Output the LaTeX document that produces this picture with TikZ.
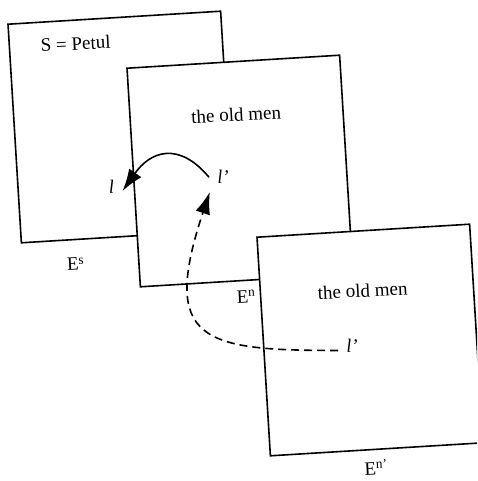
\documentclass[tikz,border=0pt]{standalone}
\usepackage{fontspec}
\setmainfont{Liberation Serif}
\usetikzlibrary{arrows.meta}
\tikzset{
  sheet/.style={draw, fill=white, line width=1.6pt, rotate=3.5, minimum width=213pt, minimum height=219pt, inner sep=0pt},
  txt/.style={font=\fontsize{19}{22}\selectfont, rotate=3, anchor=base},
  tag/.style={font=\fontsize{19}{22}\selectfont\itshape, rotate=3, inner sep=8pt},
  hop/.style={line width=1.6pt, -{Latex[length=22pt,width=15pt]}}
}
\begin{document}
\begin{tikzpicture}[x=1pt,y=1pt]
\useasboundingbox (0,0) rectangle (477,-481);
\clip (0,0) rectangle (477,-481);
% sheets, back to front
\node[sheet] (es) at (121,-127) {};
\node[sheet] (en) at (240,-171) {};
\node[sheet] (enp) at (370,-340) {};
\node[txt] (subj) at (76,-50) {S = Petul};
\node[txt] (mena) at (236.5,-121) {the old men};
\node[txt] (menb) at (363,-297) {the old men};
\node[txt] (nes) at (76,-270.5) {E\textsuperscript{s}};
\node[txt] (nen) at (246.5,-303) {E\textsuperscript{n}};
\node[txt] (nenp) at (376.5,-475) {E\textsuperscript{n'}};
\node[tag] (lS) at (111.5,-186.5) {l};
\node[tag] (lN) at (223,-176.5) {l'};
\node[tag] (lNp) at (352,-346) {l'};
\draw[hop] (lN.west) to[out=130,in=55,looseness=1.4] (lS.-25);
\draw[hop, dash pattern=on 8pt off 5pt] (lNp.195) .. controls +(-135,0) and +(-50,-150) .. (lN.south west);
%\draw[red] (es.north west) -- (es.south east);
\end{tikzpicture}
\end{document}
